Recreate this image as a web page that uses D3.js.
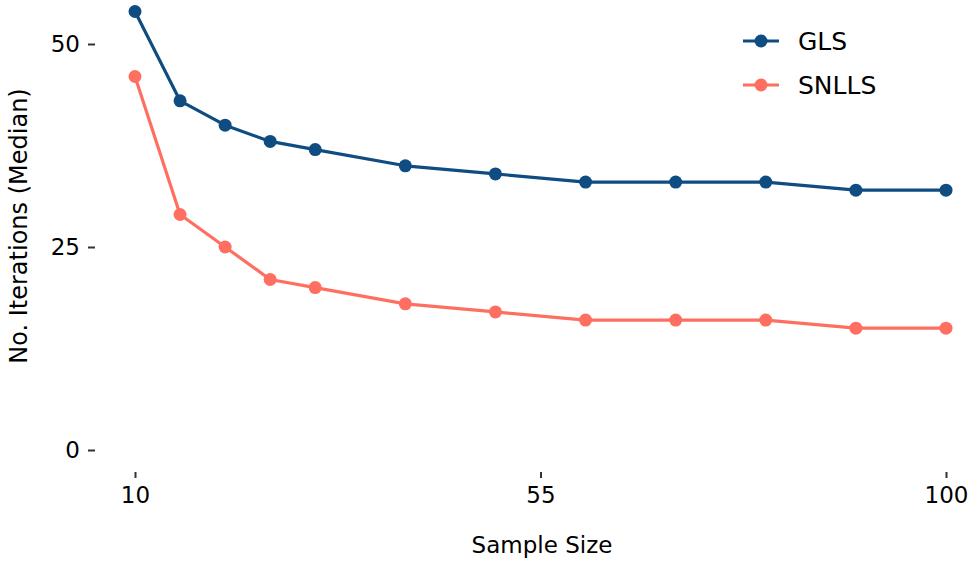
<!DOCTYPE html>
<html>
<head>
<meta charset="utf-8">
<script src="https://cdn.jsdelivr.net/npm/d3@7"></script>
<style>
  body { margin: 0; background: #fff; }
  text { font-family: "DejaVu Sans", sans-serif; fill: #000; }
</style>
</head>
<body>
<svg id="chart" width="968" height="561"></svg>
<script>
// data
var sampleSizes = [10, 15, 20, 25, 30, 40, 50, 60, 70, 80, 90, 100];
var glsValues = [54, 43, 40, 38, 37, 35, 34, 33, 33, 33, 32, 32];
var snllsValues = [46, 29, 25, 21, 20, 18, 17, 16, 16, 16, 15, 15];
var seriesNames = ["GLS", "SNLLS"];
var xTicks = [10, 55, 100];
var yTicks = [0, 25, 50];

var colors = { GLS: "#0F4C81", SNLLS: "#FF6F61" };

var svg = d3.select("#chart");

var x = d3.scaleLinear().domain([10, 100]).range([135, 946]);
var y = d3.scaleLinear().domain([0, 50]).range([450, 44]);

// axes: short grey ticks, no domain line
var xAxis = svg.append("g")
	.attr("transform", "translate(0,472)")
	.call(d3.axisBottom(x).tickValues(xTicks).tickSize(6).tickPadding(9));
var yAxis = svg.append("g")
	.attr("transform", "translate(95,0)")
	.call(d3.axisLeft(y).tickValues(yTicks).tickSize(7).tickPadding(8));

[xAxis, yAxis].forEach(function(a) {
	a.select(".domain").remove();
	a.selectAll(".tick line").attr("stroke", "#333").attr("stroke-width", 2);
	a.selectAll(".tick text")
		.style("font-size", "23px")
		.attr("fill", "#000");
});

svg.append("text")
	.attr("x", 542)
	.attr("y", 553)
	.attr("text-anchor", "middle")
	.style("font-size", "23px")
	.text("Sample Size");

svg.append("text")
	.attr("transform", "translate(27,226) rotate(-90)")
	.attr("text-anchor", "middle")
	.style("font-size", "24px")
	.text("No. Iterations (Median)");

var series = [
	{ name: "GLS", values: glsValues },
	{ name: "SNLLS", values: snllsValues }
];

var line = d3.line()
	.x(function(d) { return x(d.x); })
	.y(function(d) { return y(d.y); });

series.forEach(function(s) {
	var pts = sampleSizes.map(function(v, i) { return { x: v, y: s.values[i] }; });
	var g = svg.append("g");
	g.append("path")
		.datum(pts)
		.attr("d", line)
		.attr("fill", "none")
		.attr("stroke", colors[s.name])
		.attr("stroke-width", 3.2)
		.attr("stroke-linejoin", "round");
	g.selectAll("circle")
		.data(pts)
		.enter().append("circle")
		.attr("cx", function(d) { return x(d.x); })
		.attr("cy", function(d) { return y(d.y); })
		.attr("r", 6.5)
		.attr("fill", colors[s.name]);
});

// legend
var legend = svg.append("g");
seriesNames.forEach(function(name, i) {
	var ly = 41 + i * 44;
	legend.append("line")
		.attr("x1", 743).attr("x2", 779)
		.attr("y1", ly).attr("y2", ly)
		.attr("stroke", colors[name])
		.attr("stroke-width", 3.2);
	legend.append("circle")
		.attr("cx", 761).attr("cy", ly).attr("r", 6.5)
		.attr("fill", colors[name]);
	legend.append("text")
		.attr("x", 798).attr("y", ly)
		.attr("dy", "0.36em")
		.style("font-size", "25px")
		.text(name);
});
</script>
</body>
</html>
